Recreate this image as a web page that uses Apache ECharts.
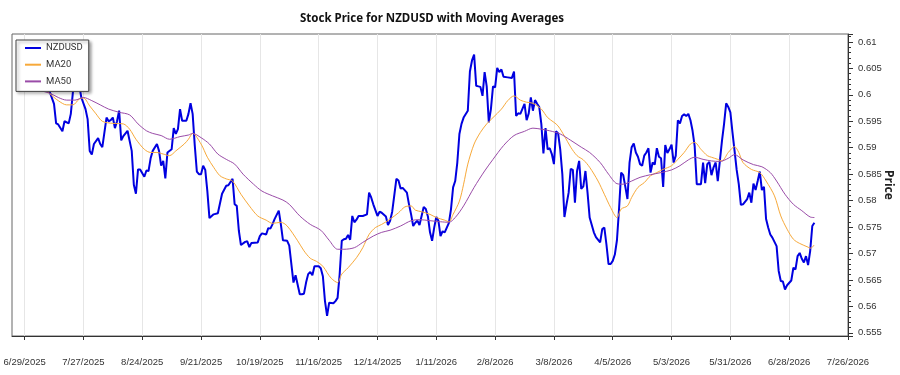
<!DOCTYPE html>
<html>
<head>
<meta charset="utf-8">
<title>Stock Price for NZDUSD with Moving Averages</title>
<script src="https://cdn.jsdelivr.net/npm/echarts@6.0.0/dist/echarts.min.js"></script>
<style>
  html, body { margin: 0; padding: 0; background: #fff; }
  #chart { width: 900px; height: 375px; }
</style>
</head>
<body>
<div id="chart"></div>
<script>
// NZDUSD close
const priceDates = [
  '2025-07-01','2025-07-03','2025-07-07','2025-07-09','2025-07-11','2025-07-13','2025-07-14','2025-07-15','2025-07-17','2025-07-18',
  '2025-07-20','2025-07-21','2025-07-22','2025-07-23','2025-07-25','2025-07-26','2025-07-28','2025-07-29','2025-07-30','2025-07-31',
  '2025-08-01','2025-08-03','2025-08-04','2025-08-05','2025-08-07','2025-08-08','2025-08-09','2025-08-10','2025-08-11','2025-08-12',
  '2025-08-13','2025-08-14','2025-08-15','2025-08-17','2025-08-18','2025-08-19','2025-08-20','2025-08-21','2025-08-22','2025-08-23',
  '2025-08-25','2025-08-26','2025-08-27','2025-08-28','2025-08-29','2025-08-31',
  '2025-09-01','2025-09-02','2025-09-03','2025-09-04','2025-09-05','2025-09-07','2025-09-08','2025-09-09','2025-09-10','2025-09-11',
  '2025-09-12','2025-09-14','2025-09-15','2025-09-16','2025-09-17','2025-09-18','2025-09-19','2025-09-20','2025-09-21','2025-09-22',
  '2025-09-23','2025-09-24','2025-09-25','2025-09-27','2025-09-29',
  '2025-10-01','2025-10-03','2025-10-04','2025-10-06','2025-10-07','2025-10-08','2025-10-09','2025-10-10','2025-10-12','2025-10-13',
  '2025-10-14','2025-10-15','2025-10-18','2025-10-19','2025-10-20','2025-10-22','2025-10-23','2025-10-24','2025-10-25','2025-10-26',
  '2025-10-28','2025-10-29','2025-10-30',
  '2025-11-01','2025-11-02','2025-11-04','2025-11-05','2025-11-07','2025-11-08','2025-11-09','2025-11-10','2025-11-11','2025-11-12',
  '2025-11-13','2025-11-14','2025-11-16','2025-11-17','2025-11-18','2025-11-19','2025-11-20','2025-11-21','2025-11-23','2025-11-24',
  '2025-11-25','2025-11-26','2025-11-27','2025-11-28','2025-11-29','2025-11-30',
  '2025-12-01','2025-12-02','2025-12-03','2025-12-04','2025-12-05','2025-12-07','2025-12-09','2025-12-10','2025-12-11','2025-12-12',
  '2025-12-14','2025-12-15','2025-12-16','2025-12-18','2025-12-19','2025-12-20','2025-12-21','2025-12-23','2025-12-24','2025-12-25',
  '2025-12-26','2025-12-28','2025-12-29','2025-12-30','2025-12-31',
  '2026-01-01','2026-01-02','2026-01-03','2026-01-05','2026-01-06','2026-01-07','2026-01-08','2026-01-09','2026-01-10','2026-01-11',
  '2026-01-12','2026-01-13','2026-01-14','2026-01-15','2026-01-16','2026-01-17','2026-01-18','2026-01-19','2026-01-20','2026-01-21',
  '2026-01-22','2026-01-23','2026-01-24','2026-01-26','2026-01-27','2026-01-28','2026-01-29','2026-01-30','2026-01-31',
  '2026-02-01','2026-02-02','2026-02-03','2026-02-04','2026-02-05','2026-02-06','2026-02-07','2026-02-08','2026-02-09','2026-02-10',
  '2026-02-11','2026-02-12','2026-02-14','2026-02-16','2026-02-17','2026-02-18','2026-02-19','2026-02-20','2026-02-22','2026-02-23',
  '2026-02-24','2026-02-25','2026-02-26','2026-02-27','2026-02-28',
  '2026-03-01','2026-03-02','2026-03-03','2026-03-04','2026-03-05','2026-03-06','2026-03-07','2026-03-08','2026-03-09','2026-03-10',
  '2026-03-11','2026-03-12','2026-03-13','2026-03-14','2026-03-15','2026-03-16','2026-03-17','2026-03-18','2026-03-19','2026-03-20',
  '2026-03-21','2026-03-22','2026-03-23','2026-03-24','2026-03-25','2026-03-27','2026-03-28','2026-03-30','2026-03-31',
  '2026-04-01','2026-04-02','2026-04-03','2026-04-04','2026-04-05','2026-04-06','2026-04-07','2026-04-08','2026-04-09','2026-04-10',
  '2026-04-11','2026-04-12','2026-04-13','2026-04-14','2026-04-15','2026-04-16','2026-04-17','2026-04-18','2026-04-19','2026-04-20',
  '2026-04-21','2026-04-22','2026-04-23','2026-04-24','2026-04-25','2026-04-26','2026-04-27','2026-04-28','2026-04-29','2026-04-30',
  '2026-05-01','2026-05-02','2026-05-03','2026-05-04','2026-05-05','2026-05-06','2026-05-07','2026-05-08','2026-05-09','2026-05-10',
  '2026-05-11','2026-05-12','2026-05-13','2026-05-14','2026-05-15','2026-05-17','2026-05-18','2026-05-19','2026-05-20','2026-05-21',
  '2026-05-22','2026-05-23','2026-05-24','2026-05-25','2026-05-26','2026-05-27','2026-05-28','2026-05-29','2026-05-30','2026-05-31',
  '2026-06-01','2026-06-02','2026-06-03','2026-06-04','2026-06-05','2026-06-06','2026-06-08','2026-06-09','2026-06-10','2026-06-11',
  '2026-06-12','2026-06-13','2026-06-14','2026-06-15','2026-06-16','2026-06-17','2026-06-18','2026-06-19','2026-06-20','2026-06-22',
  '2026-06-23','2026-06-24','2026-06-25','2026-06-26','2026-06-27','2026-06-29','2026-06-30',
  '2026-07-01','2026-07-02','2026-07-03','2026-07-04','2026-07-05','2026-07-06','2026-07-07','2026-07-08','2026-07-09','2026-07-10'
];
const priceValues = [
  0.6030,0.6012,0.6040,0.6018,0.6005,0.5983,0.5946,0.5944,0.5931,0.5950,
  0.5946,0.5964,0.6005,0.6022,0.6018,0.5995,0.5973,0.5954,0.5894,0.5887,
  0.5907,0.5918,0.5907,0.5901,0.5957,0.5950,0.5952,0.5957,0.5937,0.5950,
  0.5970,0.5914,0.5922,0.5932,0.5913,0.5894,0.5830,0.5813,0.5859,0.5859,
  0.5845,0.5857,0.5856,0.5880,0.5894,0.5907,
  0.5894,0.5866,0.5875,0.5842,0.5891,0.5897,0.5937,0.5926,0.5935,0.5973,
  0.5951,0.5951,0.5964,0.5984,0.5964,0.5905,0.5855,0.5850,0.5850,0.5866,
  0.5858,0.5818,0.5767,0.5774,0.5776,
  0.5813,0.5828,0.5829,0.5841,0.5793,0.5790,0.5743,0.5716,0.5722,0.5723,
  0.5712,0.5720,0.5721,0.5733,0.5738,0.5736,0.5748,0.5747,0.5755,0.5765,
  0.5781,0.5755,0.5725,
  0.5724,0.5715,0.5645,0.5659,0.5623,0.5623,0.5624,0.5645,0.5661,0.5665,
  0.5659,0.5676,0.5676,0.5672,0.5657,0.5610,0.5582,0.5607,0.5606,0.5610,
  0.5616,0.5661,0.5724,0.5727,0.5728,0.5735,
  0.5726,0.5771,0.5759,0.5764,0.5771,0.5771,0.5774,0.5815,0.5806,0.5793,
  0.5771,0.5779,0.5777,0.5770,0.5754,0.5762,0.5779,0.5841,0.5838,0.5823,
  0.5824,0.5815,0.5793,0.5774,0.5752,
  0.5758,0.5762,0.5754,0.5788,0.5784,0.5770,0.5740,0.5724,0.5749,0.5769,
  0.5762,0.5733,0.5742,0.5740,0.5749,0.5758,0.5784,0.5825,0.5837,0.5872,
  0.5926,0.5945,0.5957,0.5970,0.6044,0.6065,0.6076,0.6017,0.6016,
  0.6015,0.5998,0.6043,0.6016,0.5948,0.5973,0.6016,0.6014,0.6051,0.6043,
  0.6048,0.6034,0.6033,0.6032,0.6044,0.5960,0.5965,0.5964,0.5983,0.5952,
  0.5965,0.5995,0.5970,0.5990,0.5983,
  0.5977,0.5945,0.5889,0.5937,0.5897,0.5899,0.5888,0.5869,0.5931,0.5927,
  0.5897,0.5850,0.5769,0.5793,0.5815,0.5860,0.5858,0.5796,0.5856,0.5875,
  0.5822,0.5827,0.5856,0.5815,0.5768,0.5740,0.5731,0.5721,0.5746,
  0.5749,0.5717,0.5680,0.5680,0.5686,0.5698,0.5725,0.5784,0.5853,0.5848,
  0.5826,0.5803,0.5872,0.5901,0.5908,0.5891,0.5883,0.5869,0.5866,0.5885,
  0.5891,0.5899,0.5853,0.5872,0.5868,0.5899,0.5883,0.5880,0.5826,0.5905,
  0.5890,0.5897,0.5906,0.5872,0.5885,0.5952,0.5946,0.5960,0.5963,0.5960,
  0.5964,0.5952,0.5932,0.5903,0.5831,0.5831,0.5872,0.5833,0.5869,0.5873,
  0.5848,0.5863,0.5872,0.5837,0.5875,0.5913,0.5945,0.5984,0.5977,0.5967,
  0.5929,0.5894,0.5858,0.5831,0.5792,0.5793,0.5803,0.5815,0.5796,0.5832,
  0.5820,0.5837,0.5855,0.5820,0.5826,0.5765,0.5749,0.5736,0.5730,0.5714,
  0.5667,0.5648,0.5647,0.5632,0.5640,0.5649,0.5673,
  0.5670,0.5695,0.5701,0.5690,0.5683,0.5695,0.5678,0.5705,0.5752,0.5758
];

// 20-day moving average
const ma20Dates = [
  '2025-07-01','2025-07-05','2025-07-09','2025-07-11','2025-07-15','2025-07-19','2025-07-22','2025-07-25','2025-07-27','2025-07-30',
  '2025-08-02','2025-08-05','2025-08-10','2025-08-15','2025-08-18','2025-08-21','2025-08-25','2025-08-28','2025-08-31',
  '2025-09-03','2025-09-06','2025-09-09','2025-09-13','2025-09-15','2025-09-17','2025-09-21','2025-09-24','2025-09-27','2025-09-30',
  '2025-10-03','2025-10-06','2025-10-10','2025-10-14','2025-10-18','2025-10-22','2025-10-25','2025-10-29',
  '2025-11-01','2025-11-06','2025-11-09','2025-11-12','2025-11-15','2025-11-18','2025-11-20','2025-11-22','2025-11-25','2025-11-27','2025-11-30',
  '2025-12-04','2025-12-07','2025-12-10','2025-12-13','2025-12-16','2025-12-20','2025-12-24','2025-12-27','2025-12-30',
  '2026-01-01','2026-01-04','2026-01-08','2026-01-11','2026-01-15','2026-01-17','2026-01-19','2026-01-22','2026-01-24','2026-01-26','2026-01-29',
  '2026-02-01','2026-02-04','2026-02-07','2026-02-11','2026-02-14','2026-02-17','2026-02-20','2026-02-23','2026-02-26',
  '2026-03-02','2026-03-05','2026-03-08','2026-03-10','2026-03-13','2026-03-16','2026-03-19','2026-03-22','2026-03-25','2026-03-29',
  '2026-04-01','2026-04-04','2026-04-07','2026-04-09','2026-04-12','2026-04-14','2026-04-17','2026-04-20','2026-04-23','2026-04-26','2026-04-29',
  '2026-05-03','2026-05-06','2026-05-09','2026-05-12','2026-05-14','2026-05-17','2026-05-20','2026-05-22','2026-05-25','2026-05-27','2026-05-30',
  '2026-06-02','2026-06-04','2026-06-06','2026-06-10','2026-06-14','2026-06-17','2026-06-21','2026-06-24','2026-06-27','2026-06-30',
  '2026-07-03','2026-07-07','2026-07-08','2026-07-10'
];
const ma20Values = [
  0.6035,0.6022,0.6010,0.6002,0.5989,0.5981,0.5981,0.5992,0.5994,0.5979,
  0.5964,0.5950,0.5946,0.5945,0.5935,0.5916,0.5897,0.5891,0.5891,
  0.5888,0.5885,0.5894,0.5907,0.5916,0.5927,0.5907,0.5882,0.5863,0.5847,
  0.5841,0.5837,0.5812,0.5790,0.5771,0.5763,0.5757,0.5759,
  0.5752,0.5724,0.5705,0.5691,0.5685,0.5676,0.5664,0.5653,0.5645,0.5661,0.5673,
  0.5692,0.5711,0.5736,0.5749,0.5755,0.5765,0.5777,0.5788,0.5790,
  0.5782,0.5779,0.5774,0.5768,0.5763,0.5760,0.5774,0.5799,0.5831,0.5869,0.5907,
  0.5929,0.5945,0.5957,0.5973,0.5989,0.5998,0.5990,0.5986,0.5984,
  0.5973,0.5957,0.5948,0.5941,0.5922,0.5901,0.5885,0.5877,0.5863,0.5837,
  0.5812,0.5787,0.5768,0.5784,0.5790,0.5806,0.5825,0.5834,0.5847,0.5853,0.5859,
  0.5866,0.5878,0.5891,0.5907,0.5910,0.5897,0.5885,0.5882,0.5878,0.5875,0.5891,
  0.5902,0.5891,0.5872,0.5859,0.5853,0.5837,0.5809,0.5771,0.5746,0.5727,
  0.5719,0.5712,0.5710,0.5716
];

// 50-day moving average
const ma50Dates = [
  '2025-07-01','2025-07-06','2025-07-11','2025-07-15','2025-07-19','2025-07-23','2025-07-27','2025-07-31',
  '2025-08-04','2025-08-08','2025-08-13','2025-08-18','2025-08-22','2025-08-26','2025-08-29',
  '2025-09-02','2025-09-06','2025-09-11','2025-09-15','2025-09-17','2025-09-21','2025-09-25','2025-09-29',
  '2025-10-03','2025-10-07','2025-10-11','2025-10-16','2025-10-20','2025-10-25','2025-10-30',
  '2025-11-02','2025-11-07','2025-11-12','2025-11-17','2025-11-21','2025-11-25','2025-11-28',
  '2025-12-03','2025-12-07','2025-12-12','2025-12-16','2025-12-20','2025-12-25','2025-12-30',
  '2026-01-03','2026-01-08','2026-01-13','2026-01-17','2026-01-20','2026-01-24','2026-01-29',
  '2026-02-03','2026-02-07','2026-02-12','2026-02-17','2026-02-22','2026-02-26',
  '2026-03-02','2026-03-06','2026-03-11','2026-03-16','2026-03-21','2026-03-25','2026-03-30',
  '2026-04-03','2026-04-07','2026-04-10','2026-04-14','2026-04-18','2026-04-23','2026-04-28',
  '2026-05-03','2026-05-07','2026-05-11','2026-05-14','2026-05-18','2026-05-22','2026-05-26','2026-05-30',
  '2026-06-02','2026-06-06','2026-06-11','2026-06-15','2026-06-19','2026-06-22','2026-06-26','2026-06-30',
  '2026-07-04','2026-07-08','2026-07-10'
];
const ma50Values = [
  0.6010,0.6008,0.6003,0.5995,0.5990,0.5990,0.5995,0.5989,
  0.5981,0.5973,0.5967,0.5962,0.5945,0.5932,0.5927,
  0.5923,0.5916,0.5921,0.5924,0.5927,0.5919,0.5907,0.5888,
  0.5878,0.5869,0.5850,0.5831,0.5818,0.5809,0.5801,
  0.5793,0.5771,0.5755,0.5744,0.5725,0.5708,0.5708,
  0.5711,0.5721,0.5733,0.5740,0.5744,0.5752,0.5762,
  0.5764,0.5762,0.5760,0.5759,0.5768,0.5790,0.5825,
  0.5856,0.5878,0.5904,0.5923,0.5931,0.5937,
  0.5935,0.5932,0.5926,0.5914,0.5901,0.5891,0.5872,
  0.5850,0.5832,0.5831,0.5837,0.5844,0.5849,0.5853,
  0.5858,0.5866,0.5877,0.5882,0.5878,0.5875,0.5874,0.5880,
  0.5887,0.5877,0.5868,0.5864,0.5853,0.5837,0.5812,0.5793,
  0.5781,0.5769,0.5768
];

// x-axis tick dates (every 4 weeks)
const xTickDates = [
  '2025-06-29','2025-07-27','2025-08-24','2025-09-21','2025-10-19','2025-11-16','2025-12-14','2026-01-11',
  '2026-02-08','2026-03-08','2026-04-05','2026-05-03','2026-05-31','2026-06-28','2026-07-26'
];
const xMin = '2025-06-23';
const xMax = '2026-07-26';
const yMin = 0.5544;
const yMax = 0.6115;

const toTime = s => {
  const [y, m, d] = s.split('-').map(Number);
  return new Date(y, m - 1, d).getTime();
};
const pairs = (dates, vals) => dates.map((d, i) => [toTime(d), vals[i]]);
const fmtDate = v => {
  const d = new Date(v);
  return (d.getMonth() + 1) + '/' + d.getDate() + '/' + d.getFullYear();
};
const xTicks = xTickDates.map(toTime);

const AXIS_FONT = 'Liberation Sans';
const LEGEND_FONT = 'Roboto';
const TITLE_FONT = 'Noto Sans';
const axisColor = '#333';

const chart = echarts.init(document.getElementById('chart'));
chart.setOption({
  animation: false,
  backgroundColor: '#fff',
  textStyle: { fontFamily: AXIS_FONT },
  title: {
    text: 'Stock Price for NZDUSD with Moving Averages',
    left: 295,
    top: 8,
    textStyle: { fontFamily: TITLE_FONT, fontSize: 11.5, fontWeight: 'bold', color: '#111' }
  },
  legend: {
    orient: 'vertical',
    left: 16,
    top: 40,
    itemWidth: 16,
    itemHeight: 10,
    itemGap: 6.7,
    padding: [3, 6, 5, 8],
    backgroundColor: '#fff',
    borderColor: '#444',
    borderWidth: 1,
    shadowColor: 'rgba(0,0,0,0.35)',
    shadowBlur: 3,
    shadowOffsetX: 2,
    shadowOffsetY: 2,
    itemStyle: { opacity: 0 },
    textStyle: { fontFamily: LEGEND_FONT, fontSize: 9.5, color: '#333' },
    data: ['NZDUSD', 'MA20', 'MA50']
  },
  grid: {
    left: 12,
    right: 52,
    top: 34,
    bottom: 39,
    outerBoundsMode: 'none',
    containLabel: false,
    show: true,
    borderColor: '#666',
    borderWidth: 1
  },
  xAxis: {
    type: 'value',
    min: toTime(xMin),
    max: toTime(xMax),
    axisLine: { lineStyle: { color: axisColor } },
    axisTick: { show: true, customValues: xTicks, length: 4, lineStyle: { color: axisColor } },
    axisLabel: { customValues: xTicks, formatter: fmtDate, margin: 21, color: '#333', fontSize: 9.5, fontFamily: AXIS_FONT },
    splitLine: { show: true, lineStyle: { color: '#e6e6e6', width: 1 } }
  },
  yAxis: {
    type: 'value',
    position: 'right',
    min: yMin,
    max: yMax,
    splitNumber: 11,
    name: 'Price',
    nameLocation: 'middle',
    nameRotate: -90,
    nameGap: 34,
    nameMoveOverlap: false,
    nameTextStyle: { fontFamily: TITLE_FONT, fontWeight: 'bold', fontSize: 12, color: '#222' },
    axisLine: { show: true, lineStyle: { color: axisColor } },
    axisTick: { show: true, length: 5, lineStyle: { color: axisColor } },
    minorTick: { show: true, splitNumber: 5, length: 3, lineStyle: { color: axisColor } },
    axisLabel: {
      showMinLabel: false,
      showMaxLabel: false,
      margin: 10,
      color: '#333',
      fontSize: 9.5,
      fontFamily: AXIS_FONT,
      formatter: v => String(+v.toFixed(4))
    },
    splitLine: { show: false }
  },
  series: [
    {
      name: 'NZDUSD',
      type: 'line',
      data: pairs(priceDates, priceValues),
      symbol: 'none',
      showSymbol: false,
      lineStyle: { color: '#0000e0', width: 2 },
      itemStyle: { color: '#0000e0' }
    },
    {
      name: 'MA20',
      type: 'line',
      data: pairs(ma20Dates, ma20Values),
      symbol: 'none',
      showSymbol: false,
      smooth: 0.3,
      lineStyle: { color: '#f7a93a', width: 1 },
      itemStyle: { color: '#f7a93a' }
    },
    {
      name: 'MA50',
      type: 'line',
      data: pairs(ma50Dates, ma50Values),
      symbol: 'none',
      showSymbol: false,
      smooth: 0.3,
      lineStyle: { color: '#9a4ca8', width: 1 },
      itemStyle: { color: '#9a4ca8' }
    }
  ]
});
</script>
</body>
</html>
